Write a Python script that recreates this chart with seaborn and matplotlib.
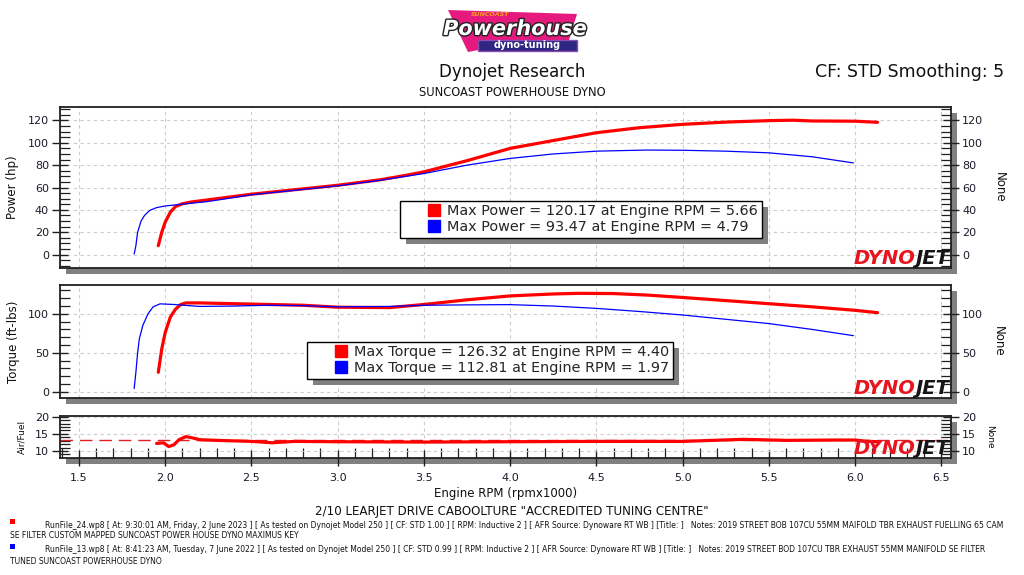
import matplotlib
matplotlib.use("Agg")
import matplotlib.pyplot as plt
import seaborn as sns
import matplotlib.patheffects as pe
from matplotlib.patches import Rectangle, Polygon
from matplotlib.lines import Line2D
from matplotlib.ticker import MultipleLocator

# ---------------- data ----------------
run_names = ["RunFile_24", "RunFile_13"]
run_colors = ["#ff0000", "#0000ff"]

red_power_rpm = [1.96, 1.98, 2.00, 2.03, 2.06, 2.10, 2.15, 2.25, 2.50, 2.75, 3.00, 3.25, 3.40, 3.50,
                 3.75, 4.00, 4.25, 4.50, 4.75, 5.00, 5.25, 5.50, 5.64, 5.75, 6.00, 6.13]
red_power_hp = [8, 20, 29, 38, 43, 45.5, 47, 49, 54, 58, 62, 67, 71, 74,
                84, 95, 102, 109, 113.5, 116.5, 118.5, 119.8, 120.2, 119.5, 119.3, 118.3]

blue_power_rpm = [1.82, 1.83, 1.84, 1.86, 1.88, 1.91, 1.95, 2.00, 2.25, 2.50, 2.75, 3.00, 3.25, 3.50,
                  3.75, 4.00, 4.25, 4.50, 4.79, 5.00, 5.25, 5.50, 5.75, 5.99]
blue_power_hp = [0.5, 8, 20, 30, 35, 39.5, 42, 43.5, 47.5, 53.5, 57.5, 61.5, 66.5, 72.5,
                 80, 86, 90, 92.5, 93.5, 93.3, 92.5, 91, 87.5, 82]

red_torque_rpm = [1.96, 1.98, 2.00, 2.03, 2.06, 2.09, 2.12, 2.20, 2.40, 2.60, 2.80, 3.00, 3.30, 3.50,
                  3.75, 4.00, 4.25, 4.40, 4.60, 4.80, 5.00, 5.25, 5.50, 5.75, 6.00, 6.13]
red_torque = [25, 55, 76, 96, 106, 112, 114, 114, 113, 112, 111, 108.5, 108, 112,
              118, 123, 125.5, 126.3, 126, 124, 121, 117, 113, 109, 104.5, 101.5]

blue_torque_rpm = [1.82, 1.83, 1.84, 1.85, 1.87, 1.90, 1.93, 1.97, 2.05, 2.20, 2.40, 2.60, 2.80, 3.00,
                   3.30, 3.50, 3.75, 4.00, 4.25, 4.50, 4.75, 5.00, 5.25, 5.50, 5.75, 5.99]
blue_torque = [4, 25, 50, 68, 85, 100, 109, 112.8, 112, 109.5, 110, 111, 110.5, 109,
               109.5, 111, 111.5, 111.8, 110, 107, 103, 98.5, 93, 87.5, 80, 72]

red_afr_rpm = [1.95, 1.99, 2.02, 2.05, 2.08, 2.12, 2.16, 2.20, 2.30, 2.50, 2.62, 2.75, 3.00, 3.50,
               4.00, 4.50, 5.00, 5.35, 5.60, 5.90, 6.00, 6.05, 6.13]
red_afr = [12.2, 12.4, 11.3, 11.8, 13.3, 14.2, 13.8, 13.3, 13.1, 12.8, 12.4, 12.8, 12.7, 12.6,
           12.7, 12.8, 12.8, 13.4, 13.1, 13.2, 13.2, 12.9, 12.7]
afr_target = 13.1

max_power = [120.17, 93.47]
max_power_rpm = [5.66, 4.79]
max_torque = [126.32, 112.81]
max_torque_rpm = [4.40, 1.97]

x_ticks = [1.5, 2.0, 2.5, 3.0, 3.5, 4.0, 4.5, 5.0, 5.5, 6.0, 6.5]
power_ticks = [0, 20, 40, 60, 80, 100, 120]
torque_ticks = [0, 50, 100]
afr_ticks = [10, 15, 20]

footer_runs = [
    ("RunFile_24.wp8 [ At: 9:30:01 AM, Friday, 2 June 2023 ] [ As tested on Dynojet Model 250 ] [ CF: STD 1.00 ] "
     "[ RPM: Inductive 2 ] [ AFR Source: Dynoware RT WB ] [Title: ]   Notes: 2019 STREET BOB 107CU 55MM MAIFOLD TBR "
     "EXHAUST FUELLING 65 CAM",
     "SE FILTER CUSTOM MAPPED SUNCOAST POWER HOUSE DYNO MAXIMUS KEY"),
    ("RunFile_13.wp8 [ At: 8:41:23 AM, Tuesday, 7 June 2022 ] [ As tested on Dynojet Model 250 ] [ CF: STD 0.99 ] "
     "[ RPM: Inductive 2 ] [ AFR Source: Dynoware RT WB ] [Title: ]   Notes: 2019 STREET BOD 107CU TBR EXHAUST 55MM "
     "MANIFOLD SE FILTER",
     "TUNED SUNCOAST POWERHOUSE DYNO"),
]

# ---------------- style ----------------
sns.set_theme(style="white")
plt.rcParams['font.family'] = ['DejaVu Sans']

W, H = 1024, 575
fig = plt.figure(figsize=(10.24, 5.75), dpi=100)
fig.patch.set_facecolor("white")


def fx(x):
    return x / W


def fy(y):
    return 1 - y / H


def axes_px(l, t, r, b):
    ax = fig.add_axes([fx(l), fy(b), (r - l) / W, (b - t) / H])
    fig.add_artist(Rectangle((fx(l + 6), fy(b + 6)), (r - l) / W, (b - t) / H,
                             transform=fig.transFigure, facecolor="#808080",
                             edgecolor="none", zorder=-1))
    return ax


ax1 = axes_px(60, 107, 951, 268)
ax2 = axes_px(60, 285, 951, 398)
ax3 = axes_px(60, 416, 951, 457.7)

XLIM = (1.39, 6.556)
specs = [
    (ax1, (-12, 132), power_ticks, 5, "Power (hp)", 8.5),
    (ax2, (-8, 137), torque_ticks, 10, "Torque (ft-lbs)", 8.5),
    (ax3, (8.05, 20.2), afr_ticks, 1, "Air/Fuel", 6.5),
]

TICKC = "#1a1a2a"
for ax, ylim, yt, minor, lab, lsz in specs:
    ax.set_facecolor("white")
    ax.set_xlim(*XLIM)
    ax.set_ylim(*ylim)
    ax.set_xticks(x_ticks)
    ax.set_yticks(yt)
    ax.yaxis.set_minor_locator(MultipleLocator(minor))
    ax.xaxis.set_minor_locator(MultipleLocator(0.1))
    ax.grid(True, which="major", color="#cccccc", linestyle=(0, (3, 3)), linewidth=0.8)
    for s in ax.spines.values():
        s.set_color("#202020")
        s.set_linewidth(1.3)
    ax.tick_params(axis="y", which="major", left=True, direction="inout", length=12, width=1,
                   color="#202020", labelsize=8, labelcolor=TICKC, pad=2)
    ax.tick_params(axis="y", which="minor", left=True, direction="in", length=7, width=0.9,
                   color="#202020")
    ax.set_ylabel(lab, fontsize=lsz, color="#101010", labelpad=6)
    tw = ax.twinx()
    tw.set_ylim(*ylim)
    tw.set_yticks(yt)
    tw.yaxis.set_minor_locator(MultipleLocator(minor))
    tw.grid(False)
    for s in tw.spines.values():
        s.set_visible(False)
    tw.tick_params(axis="y", which="major", right=True, direction="inout", length=12, width=1,
                   color="#202020", labelsize=8, labelcolor=TICKC, pad=2)
    tw.tick_params(axis="y", which="minor", right=True, direction="in", length=7, width=0.9,
                   color="#202020")
    tw.set_ylabel("None", rotation=270, fontsize=lsz, color="#101010", labelpad=16 if lsz > 7 else 13)

for ax in (ax1, ax2):
    ax.tick_params(axis="x", which="both", bottom=False, labelbottom=False)
ax3.tick_params(axis="x", which="major", bottom=True, direction="inout", length=12, width=1,
                color="#202020", labelsize=8, labelcolor=TICKC, pad=5)
ax3.tick_params(axis="x", which="minor", bottom=True, direction="in", length=7, width=0.9,
                color="#202020")
ax3.set_xticklabels([f"{v:.1f}" for v in x_ticks])
ax3.set_xlabel("Engine RPM (rpmx1000)", fontsize=8.5, color="#101010", labelpad=3)

# ---------------- lines ----------------
RED_LW, BLUE_LW = 2.3, 0.9
sns.lineplot(x=red_power_rpm, y=red_power_hp, ax=ax1, color=run_colors[0], lw=RED_LW,
             sort=False, estimator=None, legend=False)
sns.lineplot(x=blue_power_rpm, y=blue_power_hp, ax=ax1, color=run_colors[1], lw=BLUE_LW,
             sort=False, estimator=None, legend=False)
sns.lineplot(x=red_torque_rpm, y=red_torque, ax=ax2, color=run_colors[0], lw=RED_LW,
             sort=False, estimator=None, legend=False)
sns.lineplot(x=blue_torque_rpm, y=blue_torque, ax=ax2, color=run_colors[1], lw=BLUE_LW,
             sort=False, estimator=None, legend=False)
ax3.axhline(afr_target, color="#e02020", lw=1.0, linestyle=(0, (9, 5)), zorder=1.5)
sns.lineplot(x=red_afr_rpm, y=red_afr, ax=ax3, color=run_colors[0], lw=RED_LW,
             sort=False, estimator=None, legend=False)
for ax in (ax1, ax2, ax3):
    ax.set_xlim(*XLIM)

# ---------------- legends ----------------
def make_legend(ax, labels, anchor):
    handles = [Line2D([], [], marker="s", linestyle="none", markerfacecolor=c,
                      markeredgecolor=c, markersize=8) for c in run_colors]
    leg = ax.legend(handles, labels, loc="lower left", bbox_to_anchor=anchor,
                    frameon=True, fancybox=False, edgecolor="black", framealpha=1,
                    fontsize=10.4, handlelength=4.2, handletextpad=-1.2, borderpad=0.25,
                    labelspacing=0.15, borderaxespad=0)
    leg.get_frame().set_linewidth(1.0)
    leg.set_zorder(6)
    return leg


pow_labels = [f"Max Power = {p:.2f} at Engine RPM = {r:.2f}" for p, r in zip(max_power, max_power_rpm)]
tq_labels = [f"Max Torque = {t:.2f} at Engine RPM = {r:.2f}" for t, r in zip(max_torque, max_torque_rpm)]
leg1 = make_legend(ax1, pow_labels, (0.382, 0.186))
leg2 = make_legend(ax2, tq_labels, (0.277, 0.168))

fig.canvas.draw()
for ax, leg in ((ax1, leg1), (ax2, leg2)):
    bb = leg.get_window_extent()
    inv = ax.transAxes.inverted()
    (x0, y0) = inv.transform((bb.x0 + 6, bb.y0 - 6))
    (x1, y1) = inv.transform((bb.x1 + 6, bb.y1 - 6))
    ax.add_patch(Rectangle((x0, y0), x1 - x0, y1 - y0, transform=ax.transAxes,
                           facecolor="#808080", edgecolor="none", zorder=5, clip_on=False))

# ---------------- DYNOJET watermark ----------------
def dynojet(ax):
    t = ax.text(0.998, 0.0, "JET", transform=ax.transAxes, ha="right", va="bottom",
                fontsize=14, fontweight="heavy", style="italic", color="#151515", zorder=7,
                clip_on=False)
    ax.annotate("DYNO", xy=(0, 0), xycoords=t, ha="right", va="bottom", fontsize=14,
                fontweight="heavy", style="italic", color="#e8141e", zorder=7)


for ax in (ax1, ax2, ax3):
    dynojet(ax)

# ---------------- titles ----------------
fig.text(fx(512), fy(72), "Dynojet Research", ha="center", va="center", fontsize=12, color="#111111")
fig.text(fx(512), fy(92), "SUNCOAST POWERHOUSE DYNO", ha="center", va="center", fontsize=8.3, color="#111111")
fig.text(fx(1004), fy(72), "CF: STD Smoothing: 5", ha="right", va="center", fontsize=12.5, color="#111111")

# logo
fig.add_artist(Polygon([(fx(448), fy(10)), (fx(577), fy(14)), (fx(569), fy(40)),
                        (fx(520), fy(42)), (fx(468), fy(52))], closed=True,
                       transform=fig.transFigure, facecolor="#e5197e", edgecolor="none", zorder=2))
fig.add_artist(Rectangle((fx(478), fy(51)), 99 / W, 11 / H, transform=fig.transFigure,
                         facecolor="#2e2681", edgecolor="#8a4fb0", linewidth=1, zorder=3))
fig.text(fx(515), fy(29), "Powerhouse", ha="center", va="center", fontsize=15, style="italic",
         fontweight="bold", color="white", zorder=4,
         path_effects=[pe.withStroke(linewidth=2, foreground="#222222")])
fig.text(fx(490), fy(14), "SUNCOAST", ha="center", va="center", fontsize=4.5, style="italic",
         fontweight="bold", color="#f7a21b", zorder=4)
fig.text(fx(527), fy(45.5), "dyno-tuning", ha="center", va="center", fontsize=7,
         fontweight="bold", color="white", zorder=4)

# ---------------- footer ----------------
fig.text(fx(512), fy(512), '2/10 LEARJET DRIVE CABOOLTURE "ACCREDITED TUNING CENTRE"',
         ha="center", va="center", fontsize=8.6, color="#111111")
footer_rows = [(521, 525.5, 536), (546, 549, 561)]
for i, (l1, l2) in enumerate(footer_runs):
    ysq, y1, y2 = footer_rows[i]
    fig.add_artist(Rectangle((fx(10), fy(ysq + 3)), 5 / W, 5 / H, transform=fig.transFigure,
                             facecolor=run_colors[i], edgecolor="none"))
    fig.text(fx(45), fy(y1), l1, ha="left", va="center", fontsize=5.52, color="#111111")
    fig.text(fx(10), fy(y2), l2, ha="left", va="center", fontsize=5.52, color="#111111")

fig.savefig("out.png", dpi=100, facecolor="white")
